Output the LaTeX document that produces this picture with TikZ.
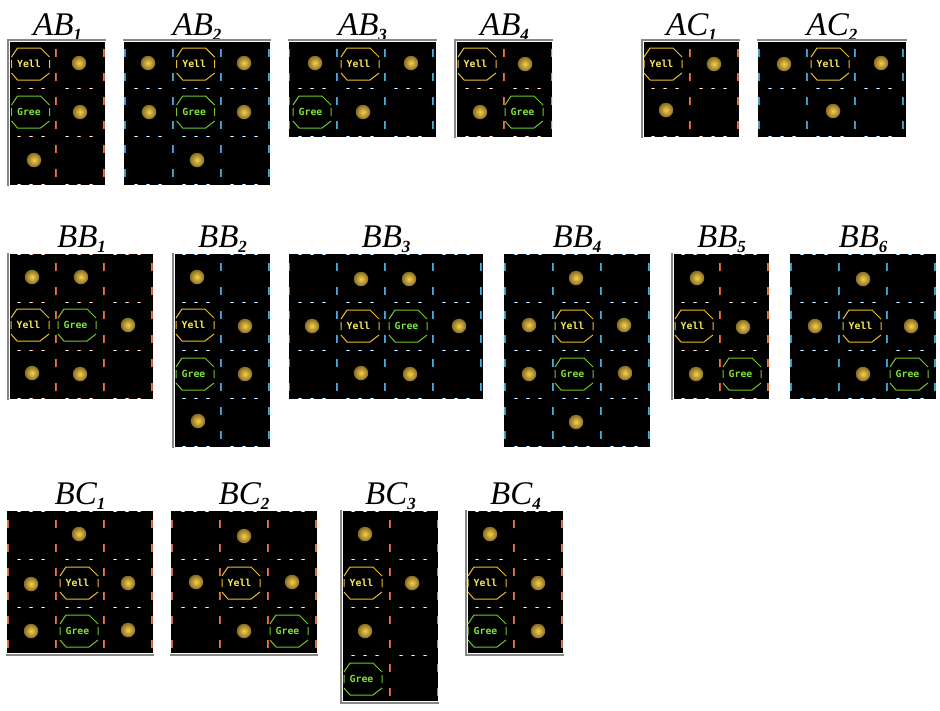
\documentclass[tikz,border=0pt]{standalone}
\usepackage{fontspec}
\newfontfamily\tilefont{DejaVu Sans Mono}
\newfontfamily\titlefont{Liberation Serif}
\usepackage{tikz}
\definecolor{gridblue}{RGB}{70,170,220}
\definecolor{gridorange}{RGB}{205,95,40}
\definecolor{tileyellow}{RGB}{235,190,40}
\definecolor{tilegreen}{RGB}{115,200,40}
\definecolor{labelyellow}{RGB}{250,230,90}
\definecolor{labelgreen}{RGB}{130,225,60}
\definecolor{coinlight}{RGB}{240,210,85}
\definecolor{coinmid}{RGB}{195,160,55}
\definecolor{coindark}{RGB}{125,100,32}
\definecolor{bargray}{RGB}{135,135,135}
\pgfdeclareradialshading{coinshade}{\pgfpoint{0bp}{0bp}}{color(0bp)=(coinlight); color(12bp)=(coinmid); color(27bp)=(coindark); color(50bp)=(coindark)}
\tikzstyle{title} = [anchor=base, inner sep=0pt, font=\titlefont\itshape\fontsize{33}{33}\selectfont]
\tikzstyle{bar} = [draw=bargray, line width=1.7, line cap=rect]
\tikzstyle{coin} = [circle, minimum size=14.5, inner sep=0pt, shading=coinshade]
\tikzstyle{tilelabel} = [inner sep=0pt, font=\tilefont\bfseries\fontsize{9.8}{10}\selectfont]
\newcommand{\sub}[1]{\raisebox{-4.5pt}{\bfseries\fontsize{17}{17}\selectfont #1}}
% one panel: name, title, grid origin x y, black area x0 y0 x1 y1
\newcommand{\gridpanel}[8]{
  \fill[black] (#5,#6) rectangle (#7,#8);
  \node[title] (#1) at ({(#5+#7)/2},{#6-6.5}) {#2};
  \begin{scope}
    \clip (#5,#6) rectangle (#7,#8);
    \foreach \i in {0,...,4} {
      \foreach \j in {0,...,4} {
        \pgfmathsetmacro{\gx}{#3+48*\i}
        \pgfmathsetmacro{\gy}{#4+48*\j}
        \foreach \d in {8.5,32.5} {
          \fill[gridblue] (\gx-1,\gy+\d) rectangle ++(1,8.5);
          \fill[gridorange] (\gx,\gy+\d) rectangle ++(1,8.5);
        }
        \foreach \d in {11,23,35} {
          \fill[gridblue] (\gx+\d-2,\gy) rectangle ++(1.4,1);
          \fill[white] (\gx+\d-0.6,\gy) rectangle ++(1.2,1);
          \fill[gridorange!60!white] (\gx+\d+0.6,\gy) rectangle ++(1.4,1);
        }
      }
    }
  \end{scope}
}
% one tile: name, centre x y, text, line colour, text colour
\newcommand{\tile}[6]{
  \node[tilelabel, text=#6] (#1) at (#2-1.5,#3-0.5) {#4};
  \draw[#5, line width=1, shift={(#2,#3)}]
    (-19,-7) -- (-13,-16) -- (10,-16) -- (19,-7)
    (-19,9) -- (-13,16) -- (10,16) -- (19,9)
    (-19,-4) -- (-19,4) (19,-4) -- (19,4);
}
\newcommand{\yell}[3]{\tile{#1}{#2}{#3}{Yell}{tileyellow}{labelyellow}}
\newcommand{\gree}[3]{\tile{#1}{#2}{#3}{Gree}{tilegreen}{labelgreen}}
\begin{document}
\begin{tikzpicture}[x=1pt,y=-1pt]
\useasboundingbox (0,0) rectangle (940,710);

% Top row
\gridpanel{ABa}{AB\sub{1}}{8}{40}{10}{42}{105}{185}
\draw[bar] (8,185) -- (8,40) -- (105,40);
\yell{ABaY}{30.5}{64} \gree{ABaG}{30.5}{112}
\node[coin] (ABaC1) at (79,63) {};
\node[coin] (ABaC2) at (80,112) {};
\node[coin] (ABaC3) at (34,160) {};

\gridpanel{ABb}{AB\sub{2}}{125}{40}{124}{42}{270}{185}
\draw[bar] (124,40) -- (270,40);
\yell{ABbY}{195.7}{64} \gree{ABbG}{195.7}{112}
\node[coin] (ABbC1) at (148,63) {};
\node[coin] (ABbC2) at (244,63) {};
\node[coin] (ABbC3) at (149,112) {};
\node[coin] (ABbC4) at (244,112) {};
\node[coin] (ABbC5) at (197,160) {};

\gridpanel{ABc}{AB\sub{3}}{289}{40}{289}{42}{436}{137}
\draw[bar] (289,40) -- (436,40);
\yell{ABcY}{360}{64} \gree{ABcG}{312}{112}
\node[coin] (ABcC1) at (315,63) {};
\node[coin] (ABcC2) at (411,63) {};
\node[coin] (ABcC3) at (363,112) {};

\gridpanel{ABd}{AB\sub{4}}{456}{40}{457}{42}{552}{137}
\draw[bar] (455,137) -- (455,40) -- (552,40);
\yell{ABdY}{477}{64} \gree{ABdG}{524}{112}
\node[coin] (ABdC1) at (525,64) {};
\node[coin] (ABdC2) at (480,112) {};

\gridpanel{ACa}{AC\sub{1}}{642}{40}{644}{42}{739}{137}
\draw[bar] (642,137) -- (642,40) -- (739,40);
\yell{ACaY}{663}{64}
\node[coin] (ACaC1) at (714,64) {};
\node[coin] (ACaC2) at (666,110) {};

\gridpanel{ACb}{AC\sub{2}}{759}{40}{758}{42}{906}{137}
\draw[bar] (758,40) -- (906,40);
\yell{ACbY}{830}{64}
\node[coin] (ACbC1) at (784,64) {};
\node[coin] (ACbC2) at (881,63) {};
\node[coin] (ACbC3) at (833,111) {};

% Middle row
\gridpanel{BBa}{BB\sub{1}}{8}{254}{10}{254}{153}{399}
\draw[bar] (8,254) -- (8,399);
\yell{BBaY}{30}{325} \gree{BBaG}{77}{325}
\node[coin] (BBaC1) at (32,277) {};
\node[coin] (BBaC2) at (81,277) {};
\node[coin] (BBaC3) at (128,325) {};
\node[coin] (BBaC4) at (32,373) {};
\node[coin] (BBaC5) at (80,374) {};

\gridpanel{BBb}{BB\sub{2}}{173}{254}{175}{254}{270}{447}
\draw[bar] (173,254) -- (173,447);
\yell{BBbY}{195}{325} \gree{BBbG}{195}{374}
\node[coin] (BBbC1) at (197,277) {};
\node[coin] (BBbC2) at (245,326) {};
\node[coin] (BBbC3) at (245,374) {};
\node[coin] (BBbC4) at (198,421) {};

\gridpanel{BBc}{BB\sub{3}}{289}{254}{289}{254}{483}{399}
\yell{BBcY}{360}{326} \gree{BBcG}{408}{326}
\node[coin] (BBcC1) at (361,279) {};
\node[coin] (BBcC2) at (409,279) {};
\node[coin] (BBcC3) at (312,326) {};
\node[coin] (BBcC4) at (459,326) {};
\node[coin] (BBcC5) at (361,373) {};
\node[coin] (BBcC6) at (410,374) {};

\gridpanel{BBd}{BB\sub{4}}{505}{254}{504}{254}{650}{447}
\yell{BBdY}{574}{326} \gree{BBdG}{574}{374}
\node[coin] (BBdC1) at (576,278) {};
\node[coin] (BBdC2) at (529,325) {};
\node[coin] (BBdC3) at (624,325) {};
\node[coin] (BBdC4) at (529,374) {};
\node[coin] (BBdC5) at (625,373) {};
\node[coin] (BBdC6) at (576,422) {};

\gridpanel{BBe}{BB\sub{5}}{672}{254}{674}{254}{769}{399}
\draw[bar] (672,254) -- (672,399);
\yell{BBeY}{694}{326} \gree{BBeG}{742}{374}
\node[coin] (BBeC1) at (697,278) {};
\node[coin] (BBeC2) at (743,327) {};
\node[coin] (BBeC3) at (696,374) {};

\gridpanel{BBf}{BB\sub{6}}{791}{254}{790}{254}{936}{399}
\yell{BBfY}{862}{326} \gree{BBfG}{909}{374}
\node[coin] (BBfC1) at (863,279) {};
\node[coin] (BBfC2) at (815,326) {};
\node[coin] (BBfC3) at (911,326) {};
\node[coin] (BBfC4) at (863,374) {};

% Bottom row
\gridpanel{BCa}{BC\sub{1}}{8}{511}{7}{511}{153}{653}
\draw[bar] (7,655) -- (153,655);
\yell{BCaY}{79}{583} \gree{BCaG}{79}{631}
\node[coin] (BCaC1) at (79,534) {};
\node[coin] (BCaC2) at (31,584) {};
\node[coin] (BCaC3) at (128,583) {};
\node[coin] (BCaC4) at (31,631) {};
\node[coin] (BCaC5) at (128,630) {};

\gridpanel{BCb}{BC\sub{2}}{172}{511}{171}{511}{317}{653}
\draw[bar] (171,655) -- (317,655);
\yell{BCbY}{241}{583} \gree{BCbG}{289}{631}
\node[coin] (BCbC1) at (244,536) {};
\node[coin] (BCbC2) at (196,582) {};
\node[coin] (BCbC3) at (292,582) {};
\node[coin] (BCbC4) at (244,631) {};

\gridpanel{BCc}{BC\sub{3}}{342}{511}{343}{511}{438}{701}
\draw[bar] (341,511) -- (341,703) -- (438,703);
\yell{BCcY}{363}{583} \gree{BCcG}{363}{679}
\node[coin] (BCcC1) at (365,534) {};
\node[coin] (BCcC2) at (412,583) {};
\node[coin] (BCcC3) at (365,631) {};

\gridpanel{BCd}{BC\sub{4}}{466}{511}{468}{511}{563}{653}
\draw[bar] (466,511) -- (466,655) -- (563,655);
\yell{BCdY}{487}{583} \gree{BCdG}{487}{631}
\node[coin] (BCdC1) at (490,534) {};
\node[coin] (BCdC2) at (538,583) {};
\node[coin] (BCdC3) at (538,631) {};
\end{tikzpicture}
\end{document}
